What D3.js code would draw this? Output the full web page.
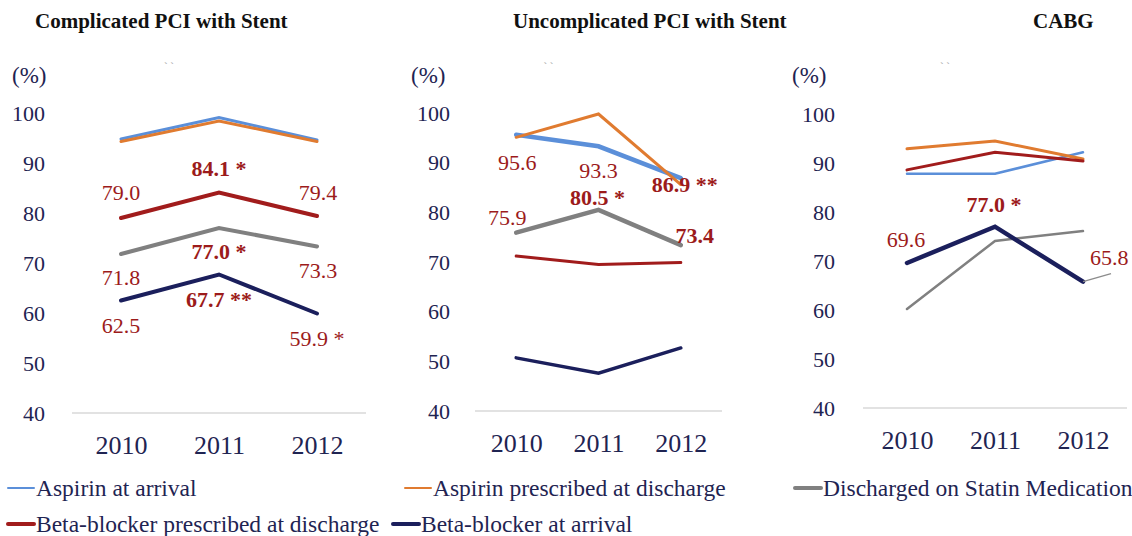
<!DOCTYPE html>
<html>
<head>
<meta charset="utf-8">
<script src="https://cdn.jsdelivr.net/npm/d3@7"></script>
<style>
  body { margin: 0; background: #fff; }
  svg { display: block; font-family: "Liberation Serif", "Times New Roman", serif; }
</style>
</head>
<body>
<div id="chart"></div>
<script>
// ---- data ----
const years = ["2010", "2011", "2012"];
const panelTitles = ["Complicated PCI with Stent", "Uncomplicated PCI with Stent", "CABG"];
const yTicks = [40, 50, 60, 70, 80, 90, 100];
const seriesNames = ["Aspirin at arrival", "Aspirin prescribed at discharge", "Discharged on Statin Medication",
                     "Beta-blocker prescribed at discharge", "Beta-blocker at arrival"];

// one row per panel, one value per year
const aspirinArrival   = [[94.8, 99.1, 94.6], [95.6, 93.3, 86.9], [87.8, 87.8, 92.2]];
const aspirinDischarge = [[94.3, 98.4, 94.3], [95.1, 99.8, 85.6], [92.9, 94.5, 90.8]];
const statinDischarge  = [[71.8, 77.0, 73.3], [75.9, 80.5, 73.4], [60.2, 74.1, 76.1]];
const betaDischarge    = [[79.0, 84.1, 79.4], [71.2, 69.5, 69.9], [88.6, 92.2, 90.4]];
const betaArrival      = [[62.5, 67.7, 59.9], [50.7, 47.6, 52.7], [69.6, 77.0, 65.8]];

// printed values: panel, series index, year index, text
const pointLabels = [
  [0, 3, 0, "79.0"], [0, 3, 1, "84.1 *"], [0, 3, 2, "79.4"],
  [0, 2, 0, "71.8"], [0, 2, 1, "77.0 *"], [0, 2, 2, "73.3"],
  [0, 4, 0, "62.5"], [0, 4, 1, "67.7 **"], [0, 4, 2, "59.9 *"],
  [1, 0, 0, "95.6"], [1, 0, 1, "93.3"], [1, 0, 2, "86.9 **"],
  [1, 2, 0, "75.9"], [1, 2, 1, "80.5 *"], [1, 2, 2, "73.4"],
  [2, 4, 0, "69.6"], [2, 4, 1, "77.0 *"], [2, 4, 2, "65.8"]
];

// ---- layout / style ----
const W = 1132, H = 536;
const colors = ["#5b8fd9", "#e07b30", "#808080", "#a11c1c", "#1b1f5c"];
const labelColor = "#9c1b1b";
const inkColor = "#1f2452";
const seriesData = [aspirinArrival, aspirinDischarge, statinDischarge, betaDischarge, betaArrival];

const panels = [
  {x0: 72,  x1: 366,  yTop: 113, yBase: 413, tickX: 45,  pctX: 12,  titleX: 35},
  {x0: 475, x1: 722,  yTop: 113, yBase: 411, tickX: 450, pctX: 411, titleX: 513},
  {x0: 863, x1: 1127, yTop: 114, yBase: 408, tickX: 835, pctX: 792, titleX: 1033}
];
// stroke widths per panel, per series
const strokeW = [
  [3, 3, 4, 4, 4],
  [4.5, 3, 4.5, 3, 3.5],
  [2.5, 3, 2.5, 3, 4.5]
];
// label placement: dx, dy from the point, anchor, bold
const labelPlace = [
  [0, -18, "middle", 0], [0, -17, "middle", 1], [1, -16, "middle", 0],
  [0, 31, "middle", 0], [0, 31, "middle", 1], [1, 31, "middle", 0],
  [0, 32, "middle", 0], [0, 32, "middle", 1], [0, 32, "middle", 0],
  [1, 35, "middle", 0], [0, 32, "middle", 0], [-29, 14, "start", 1],
  [-9, -8, "middle", 0], [-1, -5, "middle", 1], [14, -2, "middle", 1],
  [-1, -16, "middle", 0], [-1, -15, "middle", 1], [7, -17, "start", 0]
];
const legendPlace = [
  {x: 8, y: 488, w: 2}, {x: 405, y: 488, w: 2}, {x: 795, y: 488, w: 4},
  {x: 8, y: 524, w: 4}, {x: 393, y: 524, w: 4}
];
const legendOrder = [0, 1, 2, 3, 4];

const svg = d3.select("#chart").append("svg")
  .attr("width", W)
  .attr("height", H);

panels.forEach(function(p, pi) {
  var g = svg.append("g");

  var x = d3.scalePoint().domain(years).range([p.x0, p.x1]).padding(0.5);
  var y = d3.scaleLinear().domain([40, 100]).range([p.yBase, p.yTop]);

  // title
  svg.append("text")
    .attr("x", p.titleX)
    .attr("y", 28)
    .style("font-size", "21px")
    .style("font-weight", "bold")
    .attr("fill", "#111")
    .text(panelTitles[pi]);

  // unit
  g.append("text")
    .attr("x", p.pctX)
    .attr("y", 83)
    .style("font-size", "23px")
    .attr("fill", inkColor)
    .text("(%)");

  // y tick labels
  var yAxis = g.append("g")
    .attr("transform", `translate(${p.tickX},0)`)
    .call(d3.axisLeft(y).tickValues(yTicks).tickSize(0).tickPadding(0));
  yAxis.select(".domain").remove();
  yAxis.selectAll("text")
    .style("font-size", "22px")
    .style("font-family", "'Liberation Serif', serif")
    .attr("fill", inkColor);

  // baseline
  g.append("line")
    .attr("x1", p.x0).attr("x2", p.x1)
    .attr("y1", y(40)).attr("y2", y(40))
    .attr("stroke", "#d9d9d9")
    .attr("stroke-width", 1.5);

  // year labels
  var xAxis = g.append("g")
    .attr("transform", `translate(0,${y(40)})`)
    .call(d3.axisBottom(x).tickSize(0).tickPadding(23));
  xAxis.select(".domain").remove();
  xAxis.selectAll("text")
    .style("font-size", "26px")
    .style("font-family", "'Liberation Serif', serif")
    .attr("fill", inkColor);

  // lines
  var line = d3.line()
    .x(function(d, i) { return x(years[i]); })
    .y(function(d) { return y(d); });

  seriesData.forEach(function(s, si) {
    g.append("path")
      .datum(s[pi])
      .attr("d", line)
      .attr("fill", "none")
      .attr("stroke", colors[si])
      .attr("stroke-width", strokeW[pi][si])
      .attr("stroke-linecap", "round")
      .attr("stroke-linejoin", "miter");
  });

  // tiny remnant marks under the title
  g.append("text")
    .attr("x", (p.x0 + p.x1) / 2 - 50)
    .attr("y", 62)
    .attr("text-anchor", "middle")
    .style("font-size", "11px")
    .attr("fill", "#999")
    .text("ˎ  ˏ");

  // value labels
  pointLabels.forEach(function(l, li) {
    if (l[0] !== pi) return;
    var pl = labelPlace[li];
    var px = x(years[l[2]]), py = y(seriesData[l[1]][pi][l[2]]);
    if (pi === 2 && l[2] === 2) {
      // leader line for the CABG 2012 value
      g.append("line")
        .attr("x1", px).attr("y1", py)
        .attr("x2", px + 28).attr("y2", py - 8)
        .attr("stroke", "#8c8c8c")
        .attr("stroke-width", 1.2);
    }
    g.append("text")
      .attr("x", px + pl[0])
      .attr("y", py + pl[1])
      .attr("text-anchor", pl[2])
      .style("font-size", "22px")
      .style("font-weight", pl[3] ? "bold" : "normal")
      .attr("fill", labelColor)
      .text(l[3]);
  });
});

// legend
legendOrder.forEach(function(si, i) {
  var lp = legendPlace[i];
  svg.append("line")
    .attr("x1", lp.x).attr("x2", lp.x + 26)
    .attr("y1", lp.y).attr("y2", lp.y)
    .attr("stroke", colors[si])
    .attr("stroke-width", lp.w)
    .attr("stroke-linecap", "round");
  svg.append("text")
    .attr("x", lp.x + 28)
    .attr("y", lp.y + 8)
    .style("font-size", "23.5px")
    .attr("fill", inkColor)
    .text(seriesNames[si]);
});
</script>
</body>
</html>
